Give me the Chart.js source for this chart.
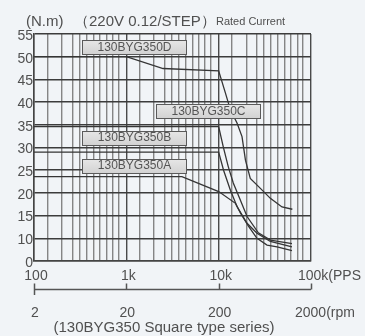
<!DOCTYPE html>
<html>
<head>
<meta charset="utf-8">
<script src="https://cdn.jsdelivr.net/npm/chart.js@4"></script>
<style>
  html, body { margin: 0; padding: 0; background: #f1f4f7; }
  canvas { display: block; }
</style>
</head>
<body>
<canvas id="torque" width="365" height="336"></canvas>
<script>
// Pull-out torque curves, 130BYG350 series (speed in PPS, torque in N.m)
const speedA  = [100, 4000, 10000, 15200, 17200, 21100, 26000, 33400, 42900, 62200];
const torqueA = [23.6, 23.6, 20.3, 17.7, 15.6, 12.6, 10.0, 8.5, 8.1, 7.3];

const speedB  = [100, 10000, 11300, 13400, 15800, 20300, 26000, 36300, 62200];
const torqueB = [29.0, 29.0, 25.0, 20.6, 17.0, 13.3, 11.1, 9.3, 8.1];

const speedC  = [100, 10000, 11200, 12700, 14400, 17200, 20300, 26900, 36300, 62200];
const torqueC = [34.6, 34.6, 30.2, 25.8, 22.2, 18.4, 14.8, 11.2, 9.6, 8.85];

const speedD  = [100, 1000, 2500, 10000, 11800, 13400, 15800, 17900, 19500, 22000, 28300, 36300, 48500, 62800];
const torqueD = [50.0, 50.0, 47.4, 46.9, 42.1, 38.3, 35.4, 32.4, 27.2, 23.2, 21.0, 18.8, 16.9, 16.4];

// Axis labels
const ppsTicks   = [100, 1000, 10000, 100000];
const ppsLabels  = ['100', '1k', '10k', '100k(PPS'];
const rpmLabels  = ['2', '20', '200', '2000(rpm'];
const torqueTicks = [5, 10, 15, 20, 25, 30, 35, 40, 45, 50, 55];
const torqueTickLabels = ['0', '10', '15', '20', '25', '30', '35', '40', '45', '50', '55'];

// Curve name tags: left edge speed, centre torque
const tagNames  = ['130BYG350D', '130BYG350C', '130BYG350B', '130BYG350A'];
const tagSpeed  = [335, 2070, 335, 335];
const tagTorque = [52.1, 38.0, 32.2, 26.0];

// Vertical grid lines within each decade
const gridSteps = [1.4, 2, 2.6, 3.1, 3.7, 4.4, 5.2, 6.1, 7.1, 8.2];
const gridSpeeds = [];
[100, 1000, 10000].forEach(d => {
  gridSpeeds.push(d);
  gridSteps.forEach(m => gridSpeeds.push(d * m));
});
gridSpeeds.push(100000);

const FONT = '"Liberation Sans", Arial, Helvetica, sans-serif';
const TEXT = '#505050';
const CURVE = '#353535';

function series(xs, ys) { return xs.map((x, i) => ({ x, y: ys[i] })); }
function curve(label, xs, ys) {
  return {
    label, data: series(xs, ys),
    borderColor: CURVE, borderWidth: 1.3,
    pointRadius: 0, tension: 0, fill: false
  };
}

const decorations = {
  id: 'decorations',
  beforeDraw(chart) {
    const c = chart.ctx;
    c.save();
    c.fillStyle = '#f1f4f7';
    c.fillRect(0, 0, chart.width, chart.height);
    c.restore();
  },
  afterDatasetsDraw(chart) {
    const c = chart.ctx;
    const xs = chart.scales.x, ys = chart.scales.y;
    c.save();
    // curve tags
    tagNames.forEach((name, i) => {
      const left = Math.round(xs.getPixelForValue(tagSpeed[i])) + 0.5;
      const mid = ys.getPixelForValue(tagTorque[i]);
      const w = 104, h = 14;
      const top = Math.round(mid - h / 2) + 0.5;
      const g = c.createLinearGradient(0, top, 0, top + h);
      g.addColorStop(0, '#e6e6e6');
      g.addColorStop(1, '#d2d2d2');
      c.fillStyle = g;
      c.fillRect(left, top, w, h);
      c.strokeStyle = '#5a5a5a';
      c.lineWidth = 1;
      c.strokeRect(left, top, w, h);
      c.fillStyle = '#555';
      c.font = '12px ' + FONT;
      c.textAlign = 'center';
      c.textBaseline = 'middle';
      c.fillText(name, left + w / 2, mid + 0.5);
    });
    c.restore();
  },
  afterDraw(chart) {
    const c = chart.ctx;
    const xs = chart.scales.x;
    c.save();
    c.fillStyle = TEXT;
    c.textBaseline = 'alphabetic';
    // heading
    c.font = '15px ' + FONT;
    c.textAlign = 'left';
    c.fillText('(N.m)', 26, 26);
    c.fillText('（220V 0.12/STEP）', 74, 26);
    c.font = '11px ' + FONT;
    c.fillText('Rated Current', 216, 25);

    // speed labels (PPS)
    c.font = '14px ' + FONT;
    c.textBaseline = 'middle';
    ppsTicks.forEach((v, i) => {
      const px = xs.getPixelForValue(v);
      if (i === ppsTicks.length - 1) {
        c.textAlign = 'left';
        c.fillText(ppsLabels[i], px - 13, 276);
      } else {
        c.textAlign = 'center';
        c.fillText(ppsLabels[i], px + 2, 276);
      }
    });

    // rpm axis
    const x0 = xs.getPixelForValue(ppsTicks[0]);
    const x1 = xs.getPixelForValue(ppsTicks[ppsTicks.length - 1]);
    c.strokeStyle = '#555';
    c.lineWidth = 1.5;
    c.beginPath();
    c.moveTo(x0, 289.5); c.lineTo(x1, 289.5);
    ppsTicks.forEach((v, i) => {
      const px = Math.round(xs.getPixelForValue(v)) + 0.5;
      const end = (i === 0 || i === ppsTicks.length - 1);
      c.moveTo(px, 283.5);
      c.lineTo(px, end && i === 0 ? 295 : 289.5);
    });
    c.stroke();
    ppsTicks.forEach((v, i) => {
      const px = xs.getPixelForValue(v);
      if (i === ppsTicks.length - 1) {
        c.textAlign = 'left';
        c.fillText(rpmLabels[i], px - 16, 313);
      } else {
        c.textAlign = 'center';
        c.fillText(rpmLabels[i], px + 1, 313);
      }
    });

    // series caption
    c.font = '15px ' + FONT;
    c.textAlign = 'center';
    c.fillText('(130BYG350 Square type series)', 164, 328);
    c.restore();
  }
};

new Chart(document.getElementById('torque'), {
  type: 'line',
  data: {
    datasets: [
      curve('130BYG350A', speedA, torqueA),
      curve('130BYG350B', speedB, torqueB),
      curve('130BYG350C', speedC, torqueC),
      curve('130BYG350D', speedD, torqueD)
    ]
  },
  options: {
    responsive: false,
    animation: false,
    devicePixelRatio: 1,
    layout: { padding: { top: 34, right: 54, left: 0, bottom: 0 } },
    plugins: { legend: { display: false }, tooltip: { enabled: false } },
    scales: {
      x: {
        type: 'logarithmic',
        min: 100, max: 100000,
        afterBuildTicks: s => { s.ticks = gridSpeeds.map(v => ({ value: v })); },
        afterFit: s => { s.height = 75; },
        ticks: { display: false },
        grid: {
          drawTicks: false,
          color: ctx => ppsTicks.includes(ctx.tick && ctx.tick.value) ? '#4a4a4a' : '#858585',
          lineWidth: 1.4
        },
        border: { display: true, color: '#444', width: 1.5 }
      },
      y: {
        type: 'linear',
        min: 5, max: 55,
        afterBuildTicks: s => { s.ticks = torqueTicks.map(v => ({ value: v })); },
        afterFit: s => { s.width = 34; },
        ticks: {
          color: TEXT,
          font: { family: FONT, size: 14 },
          padding: 1,
          labelOffset: 2,
          callback: v => torqueTickLabels[torqueTicks.indexOf(v)]
        },
        grid: { drawTicks: false, color: '#3c3c3c', lineWidth: 1.6 },
        border: { display: true, color: '#444', width: 1.5 }
      }
    }
  },
  plugins: [decorations]
});
</script>
</body>
</html>
